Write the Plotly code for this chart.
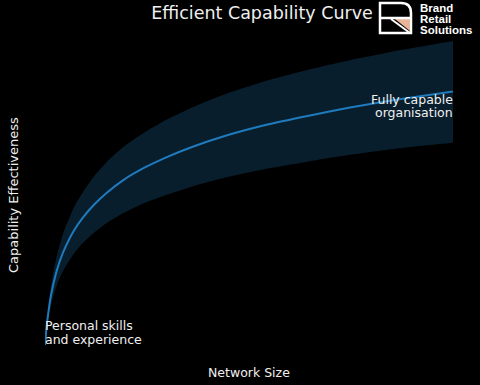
import plotly.graph_objects as go

# Data
network_size = [1, 1.25, 1.5, 2, 2.5, 3, 4, 5, 6, 8, 10, 13, 16, 20, 25, 30, 37, 45, 55, 65, 75, 87, 100]
effectiveness = [0, 0.22, 0.41, 0.69, 0.92, 1.10, 1.39, 1.61, 1.79, 2.08, 2.30, 2.56, 2.77, 3.00, 3.22, 3.40,
                 3.61, 3.81, 4.01, 4.17, 4.32, 4.47, 4.61]
upper_band = [0, 0.27, 0.49, 0.83, 1.10, 1.32, 1.66, 1.93, 2.15, 2.50, 2.76, 3.08, 3.33, 3.60, 3.86, 4.08,
              4.33, 4.57, 4.81, 5.01, 5.18, 5.36, 5.53]
lower_band = [0, 0.18, 0.33, 0.55, 0.73, 0.88, 1.11, 1.29, 1.43, 1.66, 1.84, 2.05, 2.22, 2.40, 2.58, 2.72,
              2.89, 3.05, 3.21, 3.34, 3.46, 3.58, 3.68]

W, H = 480, 385
L, R, T, B = 45, 27, 41, 40
PW, PH = W - L - R, H - T - B

def px(X):
    return (X - L) / PW

def py(Y):
    return (H - B - Y) / PH

FONT = "DejaVu Sans"
TXT = "#f0f0f0"
FS = 12.5

fig = go.Figure()
fig.add_trace(go.Scatter(x=network_size, y=lower_band, mode="lines",
                         line=dict(width=0, shape="spline", smoothing=0.5),
                         hoverinfo="skip", showlegend=False))
fig.add_trace(go.Scatter(x=network_size, y=upper_band, mode="lines", fill="tonexty",
                         fillcolor="rgba(31,119,180,0.25)",
                         line=dict(width=0, shape="spline", smoothing=0.5),
                         hoverinfo="skip", showlegend=False))
fig.add_trace(go.Scatter(x=network_size, y=effectiveness, mode="lines",
                         line=dict(color="#1f7bbd", width=2, shape="spline", smoothing=0.5),
                         showlegend=False))

def txt(text, X, Y, xa, size=FS, angle=0, color=TXT, family=FONT):
    return dict(text=text, x=px(X), y=py(Y), xref="paper", yref="paper", xanchor=xa, yanchor="middle",
                textangle=angle, showarrow=False, borderpad=0, font=dict(size=size, color=color, family=family))

ann = [
    txt("Personal skills", 44, 325, "left"),
    txt("and experience", 44, 339, "left"),
    txt("Fully capable", 454, 99, "right"),
    txt("organisation", 454, 112, "right"),
    txt("Network Size", 249, 372, "center"),
    txt("Capability Effectiveness", 13, 195, "center", size=13, angle=-90),
]
for i, word in enumerate(["Brand", "Retail", "Solutions"]):
    ann.append(txt("<b>%s</b>" % word, 419, 8 + 11 * i, "left", size=11.5, color="#ffffff",
                   family="Liberation Sans"))

def pt(X, Y):
    return "%.5f,%.5f" % (px(X), py(Y))

shapes = [
    dict(type="path", xref="paper", yref="paper",
         path="M %s L %s Q %s %s L %s L %s Z" % (pt(380, 3), pt(401, 3), pt(411, 3), pt(411, 13), pt(411, 33), pt(380, 33)),
         line=dict(color="white", width=2.5)),
    dict(type="path", xref="paper", yref="paper",
         path="M %s L %s L %s Z" % (pt(395, 19), pt(410, 19), pt(410, 31)),
         fillcolor="#e8b59b", line=dict(width=0)),
    dict(type="line", xref="paper", yref="paper", x0=px(380), y0=py(18), x1=px(411), y1=py(18),
         line=dict(color="white", width=2.5)),
    dict(type="line", xref="paper", yref="paper", x0=px(391), y0=py(19), x1=px(410), y1=py(33),
         line=dict(color="white", width=2)),
]

fig.update_layout(
    width=W, height=H,
    margin=dict(l=L, r=R, t=T, b=B),
    paper_bgcolor="black", plot_bgcolor="black",
    title=dict(text="Efficient Capability Curve", x=262 / W, xref="container", xanchor="center",
               y=1 - 13 / H, yref="container", yanchor="middle",
               font=dict(size=17.5, color=TXT, family=FONT)),
    xaxis=dict(range=[1, 100], showgrid=False, zeroline=False, showticklabels=False, ticks="", showline=False),
    yaxis=dict(range=[0, 5.53], showgrid=False, zeroline=False, showticklabels=False, ticks="", showline=False),
    annotations=ann, shapes=shapes,
)

fig.write_html("out.html")
